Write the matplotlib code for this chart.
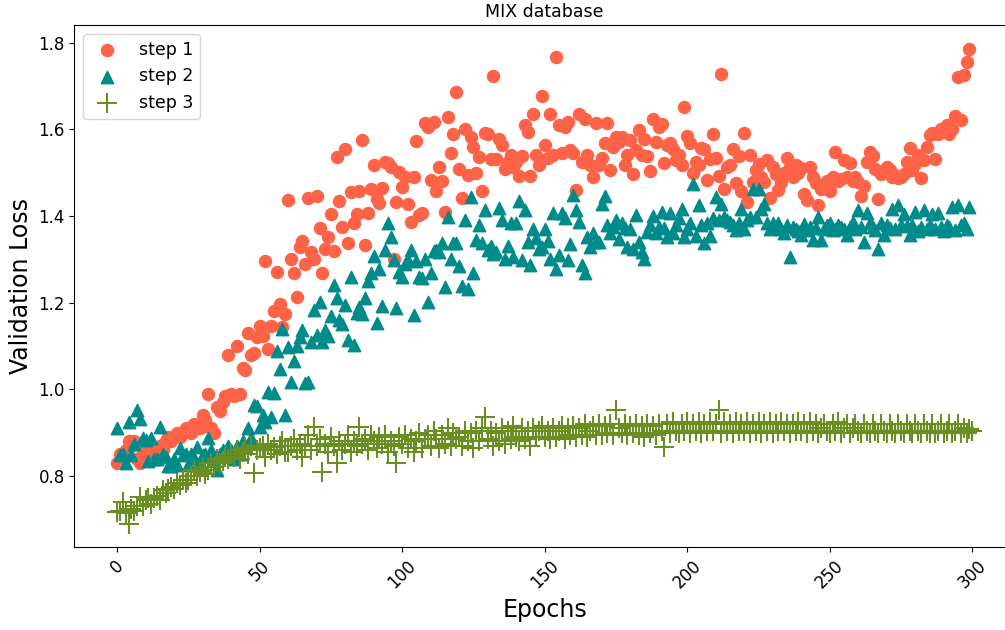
"""
Validation loss per epoch for the three training steps on the MIX database.
"""

# -----------------------------------------------------------------------------
# imports

import numpy as np
import matplotlib
matplotlib.use("Agg")
import matplotlib.pyplot as plt

# -----------------------------------------------------------------------------
# data

step1_loss = [
    0.83, 0.85, 0.84, 0.86, 0.88, 0.87, 0.88, 0.84, 0.83, 0.86,
    0.85, 0.85, 0.84, 0.86, 0.85, 0.87, 0.86, 0.88, 0.89, 0.88,
    0.89, 0.90, 0.89, 0.90, 0.91, 0.91, 0.90, 0.92, 0.91, 0.91,
    0.94, 0.93, 0.99, 0.91, 0.90, 0.96, 0.95, 0.97, 0.985, 1.08,
    0.99, 0.985, 1.10, 0.99, 1.05, 1.045, 1.13, 1.08, 1.085, 1.12,
    1.147, 1.123, 1.296, 1.093, 1.147, 1.181, 1.272, 1.197, 1.143, 1.173,
    1.437, 1.302, 1.268, 1.214, 1.329, 1.343, 1.289, 1.442, 1.316, 1.30,
    1.446, 1.373, 1.268, 1.323, 1.352, 1.405, 1.32, 1.537, 1.435, 1.375,
    1.554, 1.338, 1.455, 1.383, 1.405, 1.458, 1.575, 1.333, 1.408, 1.462,
    1.519, 1.44, 1.43, 1.465, 1.525, 1.523, 1.513, 1.302, 1.432, 1.501,
    1.468, 1.49, 1.427, 1.387, 1.49, 1.574, 1.402, 1.406, 1.614, 1.605,
    1.483, 1.618, 1.458, 1.513, 1.481, 1.41, 1.628, 1.545, 1.589, 1.686,
    1.508, 1.441, 1.601, 1.495, 1.582, 1.56, 1.50, 1.536, 1.458, 1.592,
    1.589, 1.532, 1.724, 1.532, 1.577, 1.564, 1.508, 1.525, 1.541, 1.514,
    1.525, 1.493, 1.538, 1.61, 1.594, 1.493, 1.635, 1.541, 1.518, 1.676,
    1.564, 1.533, 1.635, 1.541, 1.768, 1.61, 1.545, 1.606, 1.618, 1.552,
    1.545, 1.46, 1.635, 1.525, 1.623, 1.541, 1.518, 1.49, 1.615, 1.518,
    1.533, 1.568, 1.615, 1.506, 1.559, 1.582, 1.57, 1.582, 1.518, 1.541,
    1.575, 1.496, 1.552, 1.598, 1.54, 1.578, 1.538, 1.505, 1.623, 1.57,
    1.606, 1.612, 1.522, 1.564, 1.568, 1.554, 1.53, 1.541, 1.518, 1.651,
    1.585, 1.568, 1.50, 1.525, 1.518, 1.557, 1.554, 1.483, 1.531, 1.589,
    1.535, 1.493, 1.727, 1.462, 1.513, 1.518, 1.555, 1.476, 1.538, 1.458,
    1.591, 1.433, 1.541, 1.478, 1.506, 1.52, 1.49, 1.479, 1.529, 1.441,
    1.513, 1.498, 1.46, 1.479, 1.50, 1.535, 1.513, 1.49, 1.518, 1.50,
    1.51, 1.452, 1.437, 1.513, 1.49, 1.476, 1.425, 1.462, 1.468, 1.48,
    1.458, 1.49, 1.549, 1.48, 1.485, 1.529, 1.49, 1.522, 1.48, 1.49,
    1.478, 1.447, 1.47, 1.525, 1.549, 1.538, 1.508, 1.439, 1.498, 1.50,
    1.513, 1.506, 1.49, 1.495, 1.487, 1.49, 1.498, 1.525, 1.556, 1.506,
    1.52, 1.541, 1.487, 1.529, 1.56, 1.587, 1.592, 1.531, 1.59, 1.602,
    1.60, 1.61, 1.589, 1.60, 1.631, 1.721, 1.622, 1.725, 1.755, 1.785,
]

step2_loss = [
    0.91, 0.848, 0.85, 0.829, 0.925, 0.848, 0.875, 0.952, 0.931, 0.887,
    0.883, 0.835, 0.887, 0.84, 0.84, 0.914, 0.85, 0.845, 0.822, 0.822,
    0.84, 0.825, 0.864, 0.848, 0.85, 0.825, 0.85, 0.841, 0.868, 0.83,
    0.848, 0.85, 0.887, 0.86, 0.84, 0.814, 0.85, 0.86, 0.85, 0.87,
    0.86, 0.84, 0.87, 0.85, 0.88, 0.87, 0.91, 0.887, 0.964, 0.962,
    0.914, 0.941, 0.925, 0.995, 0.937, 0.992, 1.089, 1.046, 1.139, 0.941,
    1.097, 1.018, 1.065, 1.10, 1.121, 1.137, 1.015, 1.018, 1.11, 1.183,
    1.125, 1.202, 1.11, 1.137, 1.123, 1.169, 1.241, 1.211, 1.16, 1.151,
    1.195, 1.114, 1.26, 1.102, 1.177, 1.19, 1.173, 1.211, 1.25, 1.269,
    1.308, 1.154, 1.277, 1.192, 1.322, 1.383, 1.352, 1.298, 1.187, 1.272,
    1.26, 1.29, 1.298, 1.322, 1.172, 1.297, 1.26, 1.256, 1.30, 1.202,
    1.268, 1.32, 1.322, 1.318, 1.337, 1.237, 1.397, 1.30, 1.337, 1.337,
    1.285, 1.238, 1.391, 1.231, 1.445, 1.269, 1.345, 1.379, 1.337, 1.414,
    1.322, 1.33, 1.312, 1.318, 1.418, 1.392, 1.302, 1.331, 1.385, 1.306,
    1.383, 1.435, 1.298, 1.414, 1.341, 1.287, 1.369, 1.35, 1.325, 1.329,
    1.369, 1.343, 1.302, 1.406, 1.277, 1.31, 1.408, 1.395, 1.298, 1.335,
    1.449, 1.414, 1.387, 1.287, 1.268, 1.352, 1.329, 1.36, 1.34, 1.341,
    1.429, 1.446, 1.379, 1.36, 1.375, 1.39, 1.348, 1.383, 1.372, 1.329,
    1.37, 1.325, 1.402, 1.341, 1.318, 1.302, 1.364, 1.38, 1.40, 1.36,
    1.375, 1.41, 1.372, 1.352, 1.406, 1.361, 1.38, 1.395, 1.416, 1.352,
    1.37, 1.383, 1.474, 1.354, 1.425, 1.38, 1.337, 1.385, 1.354, 1.395,
    1.443, 1.39, 1.429, 1.398, 1.39, 1.387, 1.38, 1.368, 1.385, 1.416,
    1.369, 1.39, 1.398, 1.462, 1.397, 1.462, 1.416, 1.428, 1.383, 1.37,
    1.385, 1.375, 1.383, 1.37, 1.36, 1.38, 1.306, 1.375, 1.37, 1.365,
    1.356, 1.381, 1.368, 1.375, 1.345, 1.372, 1.398, 1.345, 1.37, 1.38,
    1.385, 1.368, 1.37, 1.38, 1.375, 1.369, 1.356, 1.375, 1.387, 1.37,
    1.414, 1.375, 1.339, 1.406, 1.385, 1.375, 1.368, 1.325, 1.385, 1.356,
    1.38, 1.372, 1.416, 1.369, 1.425, 1.38, 1.404, 1.377, 1.356, 1.38,
    1.41, 1.366, 1.375, 1.414, 1.369, 1.38, 1.404, 1.37, 1.408, 1.375,
    1.366, 1.379, 1.375, 1.42, 1.368, 1.425, 1.38, 1.383, 1.369, 1.422,
]

step3_loss = [
    0.718, 0.72, 0.74, 0.715, 0.69, 0.725, 0.72, 0.73, 0.752, 0.73,
    0.745, 0.75, 0.735, 0.75, 0.755, 0.745, 0.768, 0.76, 0.77, 0.775,
    0.77, 0.785, 0.78, 0.79, 0.785, 0.79, 0.80, 0.814, 0.80, 0.81,
    0.82, 0.805, 0.815, 0.83, 0.82, 0.84, 0.83, 0.835, 0.845, 0.84,
    0.85, 0.845, 0.86, 0.84, 0.855, 0.865, 0.85, 0.87, 0.806, 0.86,
    0.865, 0.87, 0.845, 0.875, 0.86, 0.868, 0.85, 0.87, 0.88, 0.855,
    0.855, 0.87, 0.885, 0.86, 0.875, 0.845, 0.87, 0.895, 0.86, 0.914,
    0.87, 0.885, 0.81, 0.875, 0.855, 0.89, 0.87, 0.83, 0.88, 0.86,
    0.875, 0.895, 0.855, 0.88, 0.87, 0.914, 0.875, 0.885, 0.86, 0.895,
    0.88, 0.865, 0.89, 0.875, 0.895, 0.855, 0.88, 0.87, 0.83, 0.89,
    0.875, 0.895, 0.865, 0.885, 0.855, 0.88, 0.90, 0.865, 0.885, 0.895,
    0.87, 0.905, 0.885, 0.865, 0.895, 0.875, 0.91, 0.87, 0.90, 0.885,
    0.89, 0.87, 0.905, 0.88, 0.90, 0.865, 0.905, 0.88, 0.91, 0.937,
    0.885, 0.905, 0.87, 0.90, 0.88, 0.91, 0.875, 0.905, 0.885, 0.915,
    0.89, 0.88, 0.91, 0.885, 0.905, 0.87, 0.91, 0.89, 0.905, 0.915,
    0.89, 0.905, 0.885, 0.91, 0.89, 0.905, 0.915, 0.885, 0.91, 0.895,
    0.915, 0.89, 0.91, 0.895, 0.92, 0.89, 0.905, 0.915, 0.895, 0.92,
    0.895, 0.915, 0.90, 0.92, 0.895, 0.952, 0.91, 0.90, 0.92, 0.895,
    0.915, 0.90, 0.92, 0.895, 0.915, 0.89, 0.92, 0.90, 0.915, 0.895,
    0.92, 0.905, 0.868, 0.92, 0.90, 0.925, 0.905, 0.90, 0.92, 0.905,
    0.925, 0.90, 0.92, 0.905, 0.925, 0.90, 0.92, 0.905, 0.925, 0.905,
    0.92, 0.952, 0.90, 0.925, 0.905, 0.92, 0.90, 0.925, 0.905, 0.92,
    0.905, 0.925, 0.90, 0.92, 0.905, 0.925, 0.90, 0.92, 0.905, 0.925,
    0.90, 0.92, 0.905, 0.925, 0.905, 0.92, 0.90, 0.92, 0.905, 0.925,
    0.905, 0.92, 0.90, 0.925, 0.905, 0.92, 0.90, 0.91, 0.92, 0.905,
    0.90, 0.92, 0.905, 0.925, 0.90, 0.91, 0.92, 0.90, 0.91, 0.92,
    0.905, 0.90, 0.92, 0.905, 0.90, 0.92, 0.905, 0.90, 0.92, 0.905,
    0.90, 0.92, 0.905, 0.90, 0.92, 0.905, 0.90, 0.92, 0.905, 0.90,
    0.92, 0.905, 0.90, 0.92, 0.905, 0.90, 0.92, 0.90, 0.905, 0.92,
    0.90, 0.905, 0.92, 0.90, 0.905, 0.92, 0.90, 0.91, 0.90, 0.908,
    0.905,
]

step_labels = ["step 1", "step 2", "step 3"]
y_ticks = [0.8, 1.0, 1.2, 1.4, 1.6, 1.8]

# -----------------------------------------------------------------------------


def plot_losses():
    """Scatter the three loss curves against epoch number."""
    fig = plt.figure(figsize=(10.05, 6.30), dpi=100)
    # axes deliberately runs past the right edge, as in the reference
    ax = fig.add_axes([0.074, 0.1313, 0.936, 0.829])

    ax.scatter(np.arange(len(step1_loss)), step1_loss, s=75, marker='o',
               color='tomato', label=step_labels[0], zorder=2)
    ax.scatter(np.arange(len(step2_loss)), step2_loss, s=80, marker='^',
               color='darkcyan', label=step_labels[1], zorder=3)
    ax.scatter(np.arange(len(step3_loss)), step3_loss, s=210, marker='+',
               color='olivedrab', linewidths=1.5, label=step_labels[2],
               zorder=4)

    ax.set_xlim(-15, 315)
    ax.set_ylim(0.6355, 1.841)
    ax.set_yticks(y_ticks)

    ax.set_title('MIX database', fontsize=12.5)
    ax.set_xlabel('Epochs', fontsize=17)
    ax.set_ylabel('Validation Loss', fontsize=17)
    ax.tick_params(axis='both', labelsize=12)
    plt.setp(ax.get_xticklabels(), rotation=45)

    ax.legend(loc='upper left', fontsize=12.5)

    fig.savefig('out.png', dpi=100)


# -----------------------------------------------------------------------------


if __name__ == "__main__":
    plot_losses()
